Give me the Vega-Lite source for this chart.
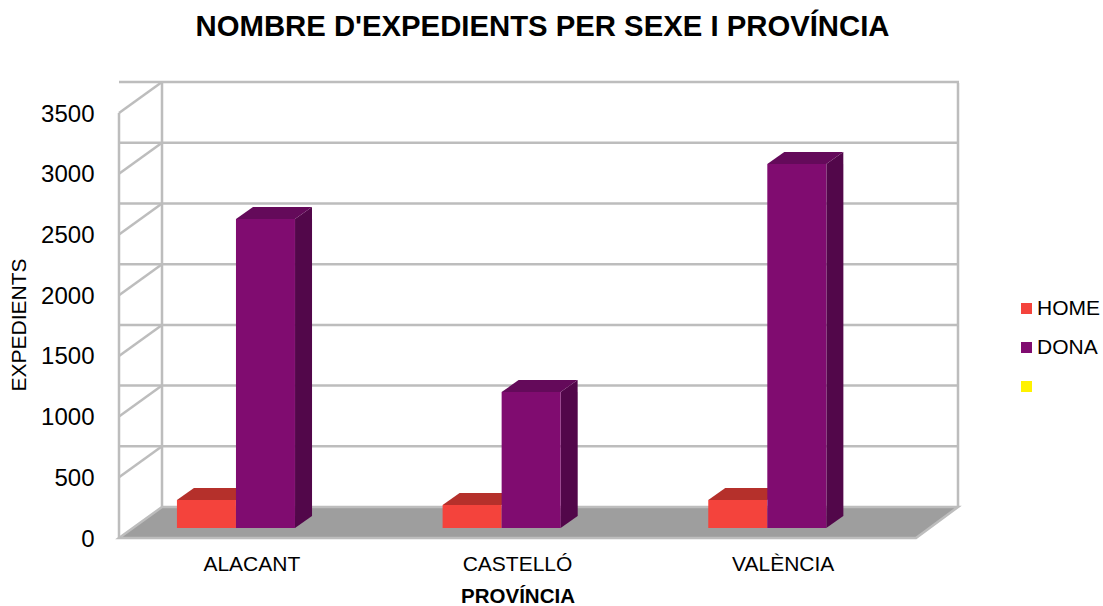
{
"$schema":"https://vega.github.io/schema/vega-lite/v6.json",
"autosize":"none",
"width":797,"height":455,
"padding":{"left":119,"top":83,"right":187,"bottom":68},
"background":"white",
"config":{"view":{"stroke":null},"font":"Liberation Sans"},
"title":{"text":"NOMBRE D'EXPEDIENTS PER SEXE I PROVÍNCIA","font":"Liberation Sans","fontSize":29.3,"fontWeight":"bold","color":"#000000","anchor":"middle","dx":25,"offset":35},
"datasets":{
"barres":[
{"provincia":"ALACANT","sexe":"HOME","expedients":230},
{"provincia":"ALACANT","sexe":"DONA","expedients":2545},
{"provincia":"CASTELLÓ","sexe":"HOME","expedients":190},
{"provincia":"CASTELLÓ","sexe":"DONA","expedients":1120},
{"provincia":"VALÈNCIA","sexe":"HOME","expedients":230},
{"provincia":"VALÈNCIA","sexe":"DONA","expedients":2998}
],
"reixa":[{"v":0},{"v":500},{"v":1000},{"v":1500},{"v":2000},{"v":2500},{"v":3000},{"v":3500}]
},
"layer":[
{"data":{"values":[{"v":0}]},
 "mark":{"type":"point","filled":true,"size":4,"opacity":1,"fill":"#9e9e9e","stroke":"#bdbdbd","strokeWidth":2.5,"shape":"M-132.83 0 L-89.83 -31 L706.17 -31 L664.17 0 Z"},
 "encoding":{"x":{"datum":"ALACANT"},"y":{"field":"v","type":"quantitative"}}},
{"data":{"values":[{"v":0}]},
 "mark":{"type":"point","filled":false,"size":4,"opacity":1,"stroke":"#bdbdbd","strokeWidth":2.5,"shape":"M-132.83 0 L-132.83 -425 M-89.83 -31 L-89.83 -455 M706.17 -31 L706.17 -455"},
 "encoding":{"x":{"datum":"ALACANT"},"y":{"field":"v","type":"quantitative"}}},
{"data":{"name":"reixa"},
 "transform":[{"filter":"datum.v>0"}],
 "mark":{"type":"point","filled":false,"size":4,"opacity":1,"stroke":"#bdbdbd","strokeWidth":2.5,"shape":"M-132.83 0 L-89.83 -31"},
 "encoding":{"x":{"datum":"ALACANT"},"y":{"field":"v","type":"quantitative"}}},
{"data":{"name":"reixa"},
 "transform":[{"filter":"datum.v>0"}],
 "mark":{"type":"rule","stroke":"#bdbdbd","strokeWidth":2.5,"xOffset":43,"x2Offset":43,"yOffset":-31},
 "encoding":{"y":{"field":"v","type":"quantitative"}}},
{"data":{"name":"barres"},
 "transform":[{"filter":"datum.sexe=='DONA'"}],
 "mark":{"type":"bar","width":17,"color":"#52074a","xOffset":51.7,"yOffset":-10,"y2Offset":-22},
 "encoding":{"x":{"field":"provincia","type":"nominal"},"y":{"field":"expedients","type":"quantitative"},"y2":{"datum":0}}},
{"data":{"name":"barres"},
 "transform":[{"filter":"datum.sexe=='DONA'"}],
 "mark":{"type":"point","filled":true,"size":4,"opacity":1,"color":"#52074a","shape":"M29.5 -10 L29.5 -22 L46.5 -22 Z"},
 "encoding":{"x":{"field":"provincia","type":"nominal"},"xOffset":{"field":"sexe","type":"nominal"},"y":{"datum":0}}},
{"data":{"name":"barres"},
 "transform":[{"filter":"datum.sexe=='DONA'"}],
 "mark":{"type":"point","filled":true,"size":4,"opacity":1,"color":"#52074a","shape":"M29.5 -10 L46.5 -22 L46.5 -10 Z"},
 "encoding":{"x":{"field":"provincia","type":"nominal"},"xOffset":{"field":"sexe","type":"nominal"},"y":{"field":"expedients","type":"quantitative"}}},
{"data":{"name":"barres"},
 "transform":[{"filter":"datum.sexe=='DONA'"}],
 "mark":{"type":"point","filled":true,"size":4,"opacity":1,"color":"#640a5a","shape":"M-29.5 -10 L-12.5 -22 L46.5 -22 L29.5 -10 Z"},
 "encoding":{"x":{"field":"provincia","type":"nominal"},"xOffset":{"field":"sexe","type":"nominal"},"y":{"field":"expedients","type":"quantitative"}}},
{"data":{"name":"barres"},
 "transform":[{"filter":"datum.sexe=='HOME'"}],
 "mark":{"type":"point","filled":true,"size":4,"opacity":1,"color":"#b5302b","shape":"M-29.5 -10 L-12.5 -22 L46.5 -22 L29.5 -10 Z"},
 "encoding":{"x":{"field":"provincia","type":"nominal"},"xOffset":{"field":"sexe","type":"nominal"},"y":{"field":"expedients","type":"quantitative"}}},
{"data":{"name":"barres"},
 "mark":{"type":"bar","width":59,"yOffset":-10,"y2Offset":-10},
 "encoding":{
  "x":{"field":"provincia","type":"nominal","sort":null,"scale":{"domain":["ALACANT","CASTELLÓ","VALÈNCIA"],"paddingInner":0,"paddingOuter":0},
   "axis":{"title":"PROVÍNCIA","titleFontSize":20.5,"titleFontWeight":"bold","titleColor":"#000000","titleY":58,"titleBaseline":"middle","labelAngle":0,"labelAlign":"center","labelBaseline":"top","labelFontSize":21,"labelColor":"#000000","labelPadding":15,"domain":false,"ticks":false}},
  "xOffset":{"field":"sexe","type":"nominal","sort":null,"scale":{"domain":["HOME","DONA"," "],"paddingInner":0,"paddingOuter":0.75,"align":0.654}},
  "y":{"field":"expedients","type":"quantitative","scale":{"domain":[0,3748],"nice":false,"zero":true},
   "axis":{"title":"EXPEDIENTS","titleFontSize":21,"titleFontWeight":"normal","titleColor":"#000000","titleX":-90,"titleY":241.5,"values":[0,500,1000,1500,2000,2500,3000,3500],"labelFontSize":24,"labelColor":"#000000","labelPadding":25,"labelOffset":1,"domain":false,"ticks":false,"grid":false,"format":"d"}},
  "y2":{"datum":0},
  "color":{"field":"sexe","type":"nominal","sort":null,"scale":{"domain":["HOME","DONA"," "],"range":["#f4433c","#800c70","#fff200"]},
   "legend":{"orient":"none","legendX":897,"legendY":215,"title":null,"symbolType":"square","symbolSize":121,"symbolOpacity":1,"symbolStrokeWidth":0,"labelFontSize":21,"labelColor":"#000000","labelOffset":0,"rowPadding":17,"padding":0}}
 }}
]
}
